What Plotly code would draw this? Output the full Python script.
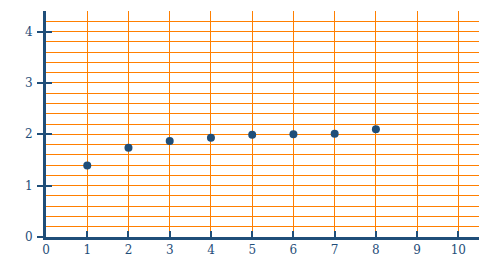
import plotly.graph_objects as go

x_vals = [1, 2, 3, 4, 5, 6, 7, 8]
y_vals = [1.39, 1.74, 1.87, 1.93, 1.99, 2.0, 2.01, 2.1]
x_ticks = [0, 1, 2, 3, 4, 5, 6, 7, 8, 9, 10]
y_ticks = [0, 1, 2, 3, 4]

blue = "#1f4e79"
orange = "#ff7f00"
font = dict(family="DejaVu Serif", size=12, color=blue)

fig = go.Figure()
fig.add_trace(go.Scatter(x=x_vals, y=y_vals, mode="markers",
                         marker=dict(color=blue, size=8), showlegend=False))

fig.update_layout(
    width=503, height=280,
    margin=dict(l=46, r=24, t=11, b=43),
    paper_bgcolor="white", plot_bgcolor="white",
    font=font,
    xaxis=dict(range=[0, 10.5], tickvals=x_ticks, showgrid=True,
               gridcolor=orange, gridwidth=1, zeroline=False,
               showline=True, linecolor=blue, linewidth=3,
               ticks="inside", ticklen=6, tickcolor=blue, tickwidth=1.5,
               tickfont=font),
    yaxis=dict(range=[0, 4.4], tickvals=y_ticks, showgrid=True,
               gridcolor=orange, gridwidth=1, zeroline=False,
               showline=True, linecolor=blue, linewidth=3,
               ticks="outside", ticklen=6, tickcolor=blue, tickwidth=1.5,
               tickfont=font, ticklabelstandoff=2,
               minor=dict(dtick=0.2, showgrid=True, gridcolor=orange,
                          gridwidth=1, ticks="")),
    yaxis2=dict(range=[0, 4.4], tickvals=y_ticks, overlaying="y",
                side="left", showgrid=False, zeroline=False,
                showticklabels=False, ticks="inside", ticklen=6,
                tickcolor=blue, tickwidth=1.5),
)
fig.add_trace(go.Scatter(x=[None], y=[None], yaxis="y2", showlegend=False))
fig.write_html("out.html")
